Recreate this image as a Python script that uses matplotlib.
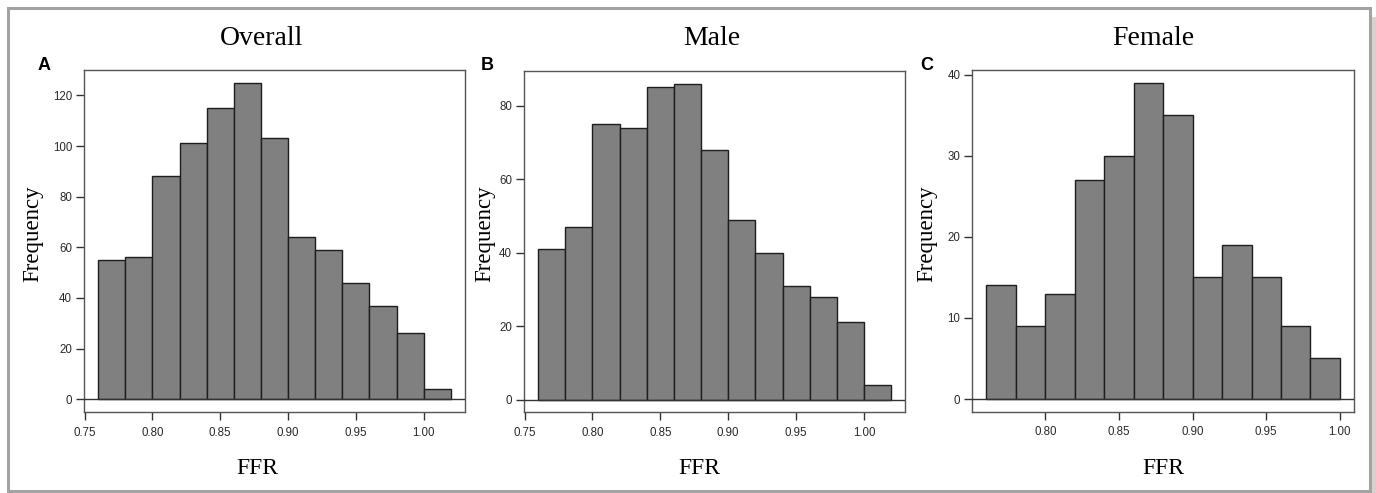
import numpy as np
import matplotlib
matplotlib.use("Agg")
import matplotlib.pyplot as plt
from matplotlib.patches import Rectangle

# ---- data ----
edges_all = [0.76, 0.78, 0.80, 0.82, 0.84, 0.86, 0.88, 0.90, 0.92, 0.94, 0.96, 0.98, 1.00, 1.02]
edges_female = [0.76, 0.78, 0.80, 0.82, 0.84, 0.86, 0.88, 0.90, 0.92, 0.94, 0.96, 0.98, 1.00]
counts_overall = [55, 56, 88, 101, 115, 125, 103, 64, 59, 46, 37, 26, 4]
counts_male = [41, 47, 75, 74, 85, 86, 68, 49, 40, 31, 28, 21, 4]
counts_female = [14, 9, 13, 27, 30, 39, 35, 15, 19, 15, 9, 5]

titles = ["Overall", "Male", "Female"]
letters = ["A", "B", "C"]
xticks_ab = [0.75, 0.80, 0.85, 0.90, 0.95, 1.00]
xticks_c = [0.80, 0.85, 0.90, 0.95, 1.00]
yticks_a = [0, 20, 40, 60, 80, 100, 120]
yticks_b = [0, 20, 40, 60, 80]
yticks_c = [0, 10, 20, 30, 40]

W, H = 1376, 493
fig = plt.figure(figsize=(W / 100, H / 100), dpi=100)
fig.patch.set_facecolor("white")

def px(x0, y0, x1, y1):
    return [x0 / W, 1 - y1 / H, (x1 - x0) / W, (y1 - y0) / H]

panels = [
    dict(rect=px(84, 70, 465, 412), edges=edges_all, counts=counts_overall,
         xt=xticks_ab, yt=yticks_a, title_x=262, letter_x=44, freq_x=33, ffr_x=257),
    dict(rect=px(524, 71, 905.3, 412.3), edges=edges_all, counts=counts_male,
         xt=xticks_ab, yt=yticks_b, title_x=712, letter_x=487, freq_x=485, ffr_x=699),
    dict(rect=px(972.3, 70, 1354, 411.7), edges=edges_female, counts=counts_female,
         xt=xticks_c, yt=yticks_c, title_x=1153, letter_x=927, freq_x=927, ffr_x=1163),
]

serif = "Liberation Serif"
sans = "Liberation Sans"
spine_col = "#555555"

for i, p in enumerate(panels):
    ax = fig.add_axes(p["rect"])
    e = np.array(p["edges"])
    c = np.array(p["counts"])
    ax.bar(e[:-1], c, width=np.diff(e), align="edge", color="#808080",
           edgecolor="#1e1e1e", linewidth=1.0, zorder=2)
    rng = e[-1] - e[0]
    ax.set_xlim(e[0] - 0.04 * rng, e[-1] + 0.04 * rng)
    ax.set_ylim(-0.04 * c.max(), c.max() * 1.04)
    ax.axhline(0, color="#333333", lw=1.0, zorder=3)
    ax.set_xticks(p["xt"])
    ax.set_xticklabels([f"{v:.2f}" for v in p["xt"]])
    ax.set_yticks(p["yt"])
    ax.tick_params(axis="both", direction="out", length=5.5, width=1.0,
                   color="#333333", labelsize=8.3, labelcolor="#2a2a2a")
    ax.tick_params(axis="x", pad=5)
    ax.tick_params(axis="y", pad=3)
    for lab in ax.get_xticklabels() + ax.get_yticklabels():
        lab.set_fontfamily(sans)
    for s in ax.spines.values():
        s.set_color(spine_col)
        s.set_linewidth(1.0)

    fig.text(p["title_x"] / W, 1 - 45 / H, titles[i], fontfamily=serif,
             fontsize=20, ha="center", va="baseline")
    fig.text(p["letter_x"] / W, 1 - 66 / H, letters[i], fontfamily=sans,
             fontweight="bold", fontsize=13, ha="center", va="center")
    fig.text(p["freq_x"] / W, 1 - 234 / H, "Frequency", fontfamily=serif,
             fontsize=16.5, rotation=90, ha="center", va="center")
    fig.text(p["ffr_x"] / W, 1 - 469 / H, "FFR", fontfamily=serif,
             fontsize=17, ha="center", va="center")

# outer frame
fig.patches.append(Rectangle((7.5 / W, 1 - 491 / H), (1369.5 - 7.5) / W, (491 - 7.5) / H,
                             transform=fig.transFigure, fill=False,
                             edgecolor="#a3a3a3", linewidth=2.2))
fig.patches.append(Rectangle((1372 / W, 0), 4 / W, 1 - 17 / H,
                             transform=fig.transFigure, facecolor="#d8d1cd",
                             edgecolor="none"))

fig.savefig("out.png", dpi=100)
